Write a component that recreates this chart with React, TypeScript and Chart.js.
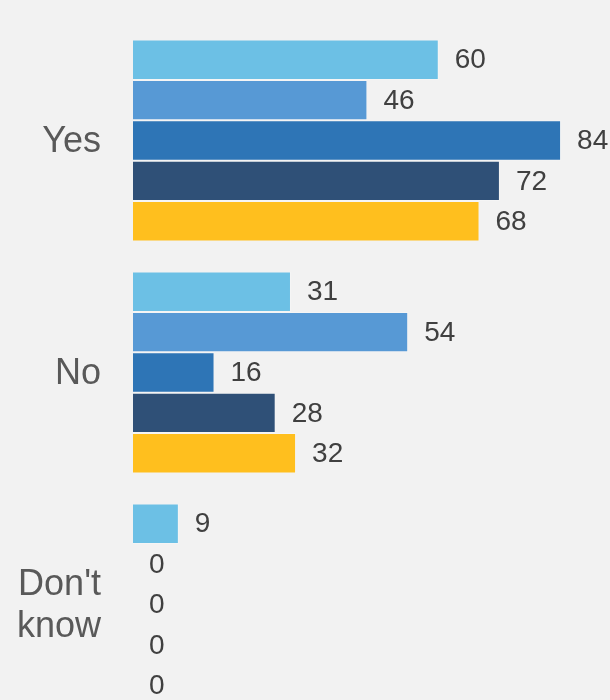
import React, { useEffect, useRef } from "react";
import { Chart, registerables } from "chart.js";

Chart.register(...registerables);

const categories: (string | string[])[] = ["Yes", "No", ["Don't", "know"]];
const series1 = [60, 31, 9];
const series2 = [46, 54, 0];
const series3 = [84, 16, 0];
const series4 = [72, 28, 0];
const series5 = [68, 32, 0];
const seriesNames = ["Series 1", "Series 2", "Series 3", "Series 4", "Series 5"];
const seriesColors = ["#6CC0E5", "#5799D5", "#2E75B6", "#2F5077", "#FFBF1E"];

const valueLabels = {
  id: "valueLabels",
  afterDatasetsDraw(chart: any) {
    const ctx = chart.ctx;
    ctx.save();
    ctx.font = "28px 'Liberation Sans', Arial, sans-serif";
    ctx.fillStyle = "#404040";
    ctx.textAlign = "left";
    ctx.textBaseline = "middle";
    chart.data.datasets.forEach((ds: any, i: number) => {
      const meta = chart.getDatasetMeta(i);
      meta.data.forEach((bar: any, j: number) => {
        ctx.fillText(String(ds.data[j]), bar.x + 16, bar.y + 1);
      });
    });
    ctx.restore();
  },
};

export default function App() {
  const ref = useRef<HTMLCanvasElement>(null);
  useEffect(() => {
    document.body.style.margin = "0";
    document.body.style.background = "#F2F2F2";
    document.body.style.overflow = "hidden";
    const all = [series1, series2, series3, series4, series5];
    const chart = new Chart(ref.current!, {
      type: "bar",
      data: {
        labels: categories as any,
        datasets: all.map((d, i) => ({
          label: seriesNames[i],
          data: d,
          backgroundColor: seriesColors[i],
          borderColor: "rgba(255,255,255,0.25)",
          borderWidth: 1,
          barPercentage: 1,
          categoryPercentage: 0.87,
        })),
      },
      options: {
        indexAxis: "y",
        animation: false,
        responsive: false,
        maintainAspectRatio: false,
        layout: { padding: { top: 24.5, bottom: 9.5, left: 0, right: 0 } },
        plugins: { legend: { display: false }, tooltip: { enabled: false } },
        scales: {
          x: {
            min: 0,
            max: 93.6,
            display: false,
          },
          y: {
            grid: { display: false, drawTicks: false },
            border: { display: false },
            ticks: {
              padding: 32,
              labelOffset: 2,
              color: "#595959",
              font: { family: "'Liberation Sans', Arial, sans-serif", size: 36, lineHeight: 1.17 },
            },
            afterFit(scale: any) {
              scale.width = 133;
              scale.paddingTop = 0;
              scale.paddingBottom = 0;
            },
          },
        },
      },
      plugins: [valueLabels],
    });
    return () => chart.destroy();
  }, []);
  return (
    <div style={{ width: 610, height: 730, background: "#F2F2F2" }}>
      <canvas ref={ref} width={610} height={730} style={{ display: "block" }} />
    </div>
  );
}
